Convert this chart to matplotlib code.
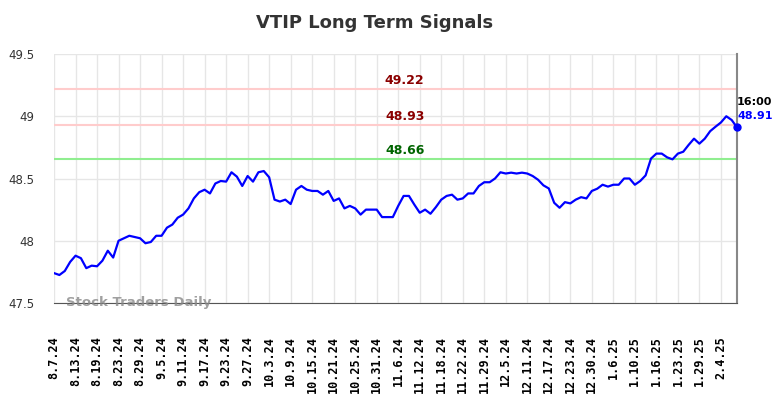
import numpy as np
import matplotlib.pyplot as plt

# closing prices, one per trading day
prices = [47.74, 47.725, 47.757, 47.83, 47.88, 47.86, 47.78, 47.80, 47.795, 47.84,
          47.92, 47.865, 48.00, 48.02, 48.04, 48.03, 48.02, 47.98, 47.99, 48.04,
          48.04, 48.105, 48.13, 48.185, 48.21, 48.26, 48.34, 48.39, 48.41, 48.38,
          48.46, 48.48, 48.475, 48.55, 48.515, 48.44, 48.52, 48.475, 48.55, 48.56,
          48.51, 48.33, 48.315, 48.33, 48.295, 48.41, 48.44, 48.41, 48.40, 48.40,
          48.37, 48.40, 48.32, 48.34, 48.26, 48.28, 48.26, 48.21, 48.25, 48.25,
          48.25, 48.19, 48.19, 48.19, 48.28, 48.36, 48.36, 48.29, 48.225, 48.25,
          48.217, 48.27, 48.33, 48.36, 48.37, 48.33, 48.34, 48.38, 48.38, 48.44,
          48.47, 48.47, 48.50, 48.55, 48.54, 48.547, 48.54, 48.547, 48.54, 48.52,
          48.49, 48.445, 48.42, 48.305, 48.265, 48.31, 48.30, 48.33, 48.35, 48.34,
          48.40, 48.418, 48.45, 48.435, 48.45, 48.45, 48.50, 48.50, 48.45, 48.48,
          48.525, 48.66, 48.70, 48.70, 48.67, 48.654, 48.70, 48.715, 48.77, 48.82,
          48.78, 48.82, 48.88, 48.916, 48.95, 49.00, 48.97, 48.91]

tick_labels = ['8.7.24', '8.13.24', '8.19.24', '8.23.24', '8.29.24', '9.5.24',
               '9.11.24', '9.17.24', '9.23.24', '9.27.24', '10.3.24', '10.9.24',
               '10.15.24', '10.21.24', '10.25.24', '10.31.24', '11.6.24', '11.12.24',
               '11.18.24', '11.22.24', '11.29.24', '12.5.24', '12.11.24', '12.17.24',
               '12.23.24', '12.30.24', '1.6.25', '1.10.25', '1.16.25', '1.23.25',
               '1.29.25', '2.4.25']

resistance = [49.22, 48.93]
support = [48.66]
last_time = '16:00'

x = np.arange(len(prices))

fig = plt.figure(figsize=(7.84, 3.98), dpi=100)
ax = fig.add_axes([0.0689, 0.2387, 0.8712, 0.6256])

ax.plot(x, prices, color='#0000ff', lw=1.6, zorder=3)
ax.plot(x[-1], prices[-1], 'o', color='#0000ff', ms=5, zorder=4, clip_on=False)

for lvl in resistance:
    ax.axhline(lvl, color='#ffcccc', lw=1.5, zorder=2)
    ax.annotate('%.2f' % lvl, (65.2, lvl), xytext=(0, 1.5), textcoords='offset points',
                ha='center', va='bottom', color='#8b0000', fontsize=9, fontweight='bold')
for lvl in support:
    ax.axhline(lvl, color='#90ee90', lw=1.5, zorder=2)
    ax.annotate('%.2f' % lvl, (65.2, lvl), xytext=(0, 1.5), textcoords='offset points',
                ha='center', va='bottom', color='#006400', fontsize=9, fontweight='bold')

ax.annotate(last_time, (x[-1], prices[-1]), xytext=(0, 18), textcoords='offset points',
            ha='left', va='center', color='black', fontsize=8, fontweight='bold')
ax.annotate('%.2f' % prices[-1], (x[-1], prices[-1]), xytext=(0, 8), textcoords='offset points',
            ha='left', va='center', color='#0000ff', fontsize=8, fontweight='bold')

ax.text(2.2, 47.5, 'Stock Traders Daily', ha='left', va='center', fontsize=9.5,
        fontweight='bold', color='#888888', alpha=0.8, zorder=5)

ax.set_xlim(0, len(prices) - 1)
ax.set_ylim(47.5, 49.5)
ax.set_xticks(x[::4][:len(tick_labels)])
ax.set_xticklabels(tick_labels, rotation=90, fontsize=8.5, fontweight='bold',
                   family='DejaVu Sans Mono', va='top')
ax.set_yticks([47.5, 48, 48.5, 49, 49.5])
ax.set_yticklabels(['47.5', '48', '48.5', '49', '49.5'], fontsize=8.5, color='#333333')
ax.tick_params(axis='x', length=0, pad=24)
ax.tick_params(axis='y', length=0, pad=14)
ax.grid(True, color='#e6e6e6', lw=1, zorder=0)

ax.spines['left'].set_visible(False)
ax.spines['top'].set_visible(False)
ax.spines['bottom'].set_color('#555555')
ax.spines['right'].set_color('#888888')
ax.spines['right'].set_linewidth(1.5)

fig.suptitle('VTIP Long Term Signals', x=0.478, y=0.965, fontsize=13,
             fontweight='bold', color='#333333')

fig.savefig('out.png', dpi=100)
